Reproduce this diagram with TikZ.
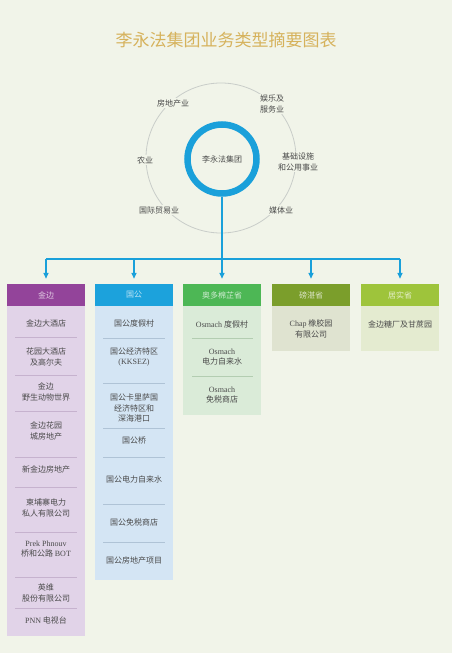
\documentclass[tikz,border=0pt]{standalone}
\usepackage{fontspec}
\setmainfont{Liberation Serif}
\newfontfamily\cjk{Noto Sans CJK SC}
\usepackage{tikz}
\usetikzlibrary{arrows.meta, positioning}

\definecolor{bg}{HTML}{F1F4E9}
\definecolor{titlegold}{HTML}{D6B25C}
\definecolor{ringgray}{HTML}{C9CDC9}
\definecolor{blu}{HTML}{1AA0DA}
\definecolor{txt}{HTML}{4A4A4A}
\definecolor{hA}{HTML}{93449A}\definecolor{bA}{HTML}{E1D3E8}\definecolor{sA}{HTML}{C6B2CE}
\definecolor{hB}{HTML}{1CA2DC}\definecolor{bB}{HTML}{D4E5F4}\definecolor{sB}{HTML}{AFC3D6}
\definecolor{hC}{HTML}{4DB755}\definecolor{bC}{HTML}{DAEBD8}\definecolor{sC}{HTML}{B3CDB1}
\definecolor{hD}{HTML}{7B9E2B}\definecolor{bD}{HTML}{DFE3D0}
\definecolor{hE}{HTML}{9EC43B}\definecolor{bE}{HTML}{E4EBD0}

\tikzset{
  ringlabel/.style={fill=bg, inner sep=1.5pt, align=center, text=txt,
    font=\cjk\fontsize{8}{10.5}\selectfont},
  hdr/.style={minimum width=78pt, minimum height=22pt, inner sep=0pt,
    font=\cjk\fontsize{8}{10}\selectfont},
  item/.style={align=center, text=txt, font=\cjk\fontsize{8}{10.5}\selectfont},
  link/.style={draw=blu, line width=1.4pt},
  arr/.style={link, -{Triangle[width=5pt,length=6pt]}, shorten >=5pt}
}

\begin{document}
\begin{tikzpicture}[x=1pt, y=-1pt]
        \fill[bg] (0,0) rectangle (452,653);
        \useasboundingbox (0,0) rectangle (452,653);
        \node[text=titlegold, font=\cjk\fontsize{17}{20}\selectfont] (title) at (226,40) {李永法集团业务类型摘要图表};
        % ring of business lines
        \draw[ringgray, line width=0.8pt] (221,158) circle[radius=75pt];
        \node[ringlabel] (realty) at (173,103) {房地产业};
        \node[ringlabel] (leisure) at (272,104) {娱乐及\\服务业};
        \node[ringlabel] (farm) at (145,160) {农业};
        \node[ringlabel] (infra) at (298,162) {基础设施\\和公用事业};
        \node[ringlabel] (trade) at (159,210) {国际贸易业};
        \node[ringlabel] (media) at (281,210) {媒体业};
        \node[circle, draw=blu, line width=6.5pt, minimum size=69pt, inner sep=0pt, text=txt,
              font=\cjk\fontsize{8}{10}\selectfont] (grp) at (222,159) {李永法集团};
        % connectors
        \coordinate (hub) at (222,259); \coordinate (hubL) at (46,259); \coordinate (hubR) at (400,259);
        \draw[link] (grp.south) -- (hub);
        \draw[link] (hubL) -- (hubR);
        % provinces
        \node[hdr, fill=hA, text=white!72!hA] (h1) at (46,295) {金边};
        \node[hdr, fill=hB, text=white!72!hB] (h2) at (134,295) {国公};
        \node[hdr, fill=hC, text=white!72!hC] (h3) at (222,295) {奥多棉芷省};
        \node[hdr, fill=hD, text=white!72!hD] (h4) at (311,295) {磅湛省};
        \node[hdr, fill=hE, text=white!72!hE] (h5) at (400,295) {居实省};
        \draw[arr] (hubL) -- (h1.north); \draw[arr] (hub -| h2.north) -- (h2.north);
        \draw[arr] (hub) -- (h3.north); \draw[arr] (hub -| h4.north) -- (h4.north);
        \draw[arr] (hubR) -- (h5.north);
        \fill[bA] (h1.south west) rectangle (85,636);
        \fill[bB] (h2.south west) rectangle (173,580);
        \fill[bC] (h3.south west) rectangle (261,415);
        \fill[bD] (h4.south west) rectangle (350,351);
        \fill[bE] (h5.south west) rectangle (439,351);
        % Phnom Penh
        \foreach \y in {337,375,411,457,487,532,577,608} \draw[sA, line width=1pt] (15,\y) -- (77,\y);
        \node[item] (a1) at (46,323) {金边大酒店};
        \node[item] (a2) at (46,357) {花园大酒店\\及高尔夫};
        \node[item] (a3) at (46,392) {金边\\野生动物世界};
        \node[item] (a4) at (46,431) {金边花园\\城房地产};
        \node[item] (a5) at (46,469) {新金边房地产};
        \node[item] (a6) at (46,508) {柬埔寨电力\\私人有限公司};
        \node[item] (a7) at (46,549) {{\rmfamily Prek Phnouv}\\桥和公路 {\rmfamily BOT}};
        \node[item] (a8) at (46,593) {英维\\股份有限公司};
        \node[item] (a9) at (46,620) {{\rmfamily PNN} 电视台};
        % Koh Kong
        \foreach \y in {338,383,428,457,504,542} \draw[sB, line width=1pt] (103,\y) -- (165,\y);
        \node[item] (b1) at (134,323) {国公度假村};
        \node[item] (b2) at (134,357) {国公经济特区\\{\rmfamily (KKSEZ)}};
        \node[item] (b3) at (134,408) {国公卡里萨国\\经济特区和\\深海港口};
        \node[item] (b4) at (134,440) {国公桥};
        \node[item] (b5) at (134,479) {国公电力自来水};
        \node[item] (b6) at (134,522) {国公免税商店};
        \node[item] (b7) at (134,560) {国公房地产项目};
        % Oddar Meanchey
        \foreach \y in {338,376} \draw[sC, line width=1pt] (192,\y) -- (253,\y);
        \node[item] (c1) at (222,324) {{\rmfamily Osmach} 度假村};
        \node[item] (c2) at (222,357) {{\rmfamily Osmach}\\电力自来水};
        \node[item] (c3) at (222,395) {{\rmfamily Osmach}\\免税商店};
        % rubber and sugar
        \node[item] (d1) at (311,329) {{\rmfamily Chap} 橡胶园\\有限公司};
        \node[item] (e1) at (400,324) {金边糖厂及甘蔗园};
    \end{tikzpicture}
\end{document}
